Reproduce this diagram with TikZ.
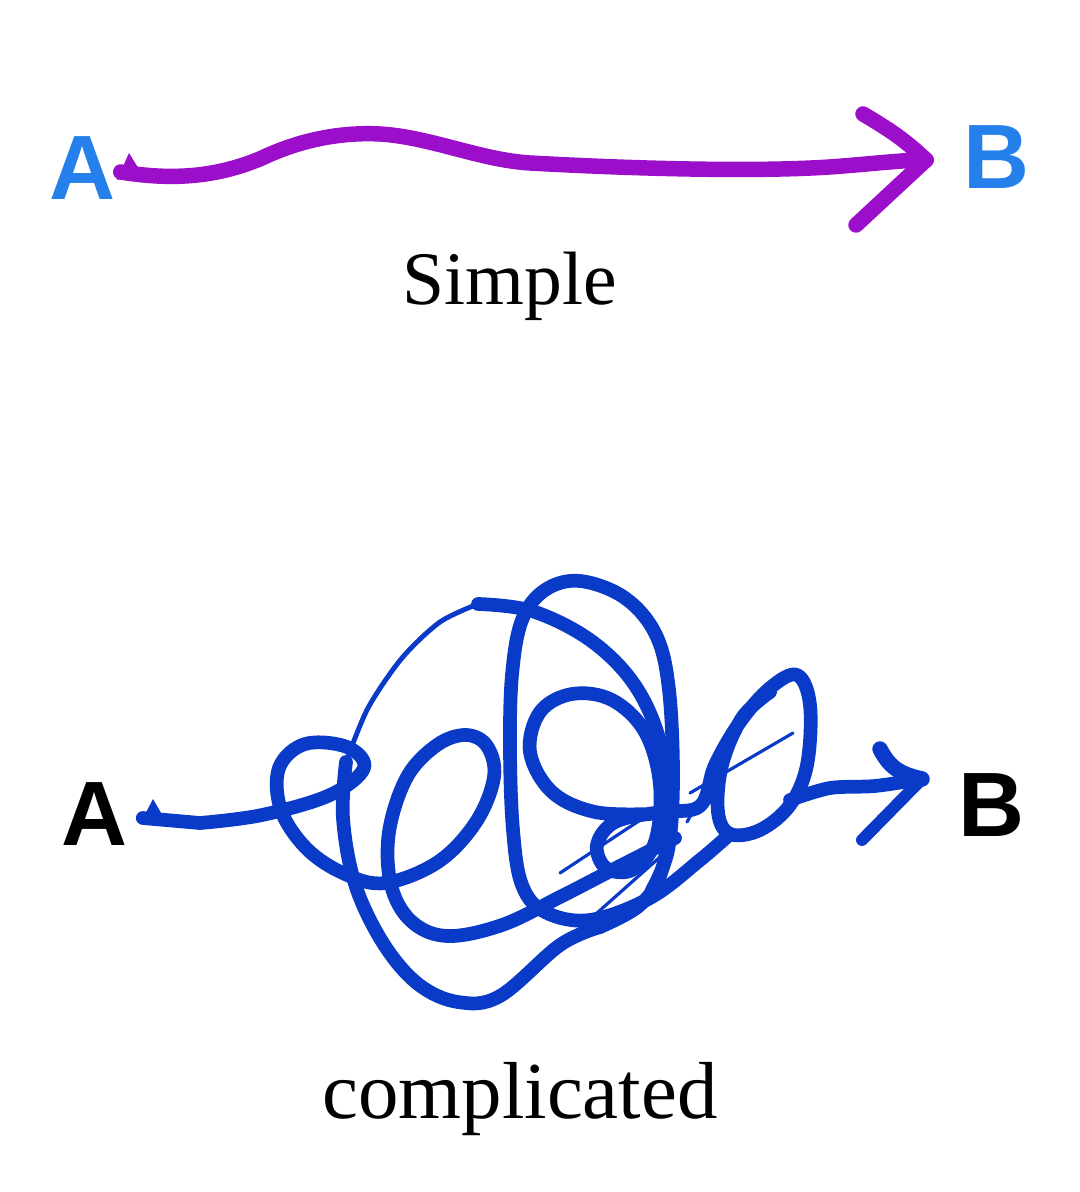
\documentclass[tikz,border=0pt]{standalone}
\usepackage{fontspec}
\setmainfont{Liberation Serif}
\newfontfamily\lettersf{Liberation Sans}
\definecolor{letterblue}{RGB}{38,128,235}
\definecolor{simplepurple}{RGB}{155,14,202}
\definecolor{knotblue}{RGB}{10,58,200}
\tikzset{
  letter/.style={inner sep=0pt, font=\lettersf\bfseries\fontsize{26}{26}\selectfont},
  penS/.style={draw=simplepurple, line width=4.4pt, line cap=round, line join=round},
  penC/.style={draw=knotblue, line width=3.9pt, line cap=round, line join=round},
  penthin/.style={draw=knotblue, line width=0.9pt, line cap=round},
}
\begin{document}
\begin{tikzpicture}[x=0.01cm, y=-0.01cm]
    \useasboundingbox (0,0) rectangle (1080,1192);
    % simple
    \node[letter, letterblue] (Asimple) at (83,168) {A};
    \node[letter, letterblue] (Bsimple) at (996,157) {B};
    \coordinate (simpletip) at (926,160);
    \draw[penS] ([shift={(4,4)}]Asimple.east) .. controls (170,180) and (215,178) .. (262,158)
        .. controls (300,140) and (340,132) .. (380,134)
        .. controls (430,137) and (480,160) .. (530,163)
        .. controls (620,168) and (760,173) .. (843,166)
        .. controls (880,163) and (905,160) .. (simpletip);
    \fill[simplepurple] (117,180) -- (129,153) -- (142,174) -- cycle;
    \draw[penS] (863,114) .. controls (890,130) and (905,140) .. (simpletip);
    \draw[penS] (simpletip) -- (856,225);
    \node[anchor=base, font=\fontsize{21.5}{24}\selectfont] (simplelbl) at (510,305) {Simple};
    % complicated
    \node[letter, black] (Acomp) at (95,814) {A};
    \node[letter, black] (Bcomp) at (991,805) {B};
    \coordinate (comptip) at (922,779);
    \fill[knotblue] (140,824) -- (153,799) -- (164,818) -- cycle;
    \draw[penC] ([shift={(14,4)}]Acomp.east) -- plot[smooth, tension=0.6] coordinates {
        (200,823) (262,815) (330,795) (364,768) (347,747) (305,744) (279,768) (281,810)
        (307,849) (345,874) (385,883) (438,862) (476,822) (494,777) (487,746) (466,735)
        (437,745) (407,777) (389,832) (391,885) (411,921) (447,936) (502,925) (560,897)
        (620,866) (675,838)};
    \draw[penC] plot[smooth, tension=0.6] coordinates {
        (600,927) (560,945) (500,996) (458,1002) (418,984) (383,943) (355,884) (343,818) (346,762)};
    \draw[penthin, line width=1.4pt] plot[smooth] coordinates {
        (346,762) (368,708) (402,658) (440,622) (478,604)};
    \draw[penC] plot[smooth, tension=0.6] coordinates {
        (478,604) (532,611) (590,640) (634,684) (660,742) (668,812) (662,870) (640,905) (600,927)};
    \draw[penC] plot[smooth, tension=0.6] coordinates {
        (730,834) (700,860) (650,898) (590,920) (545,912) (522,885) (513,830) (510,750) (512,675)
        (522,620) (545,590) (580,581) (625,598) (656,635) (669,690) (673,780) (668,850) (652,890)};
    \draw[penC] plot[smooth, tension=0.6] coordinates {
        (650,814) (595,812) (552,792) (530,752) (540,712) (572,694) (612,700) (645,732)
        (660,785) (655,842) (632,870) (606,868) (597,845) (615,822) (660,812) (700,806)
        (715,765) (740,722) (770,688) (797,675) (810,705) (807,765) (790,805) (760,830)
        (730,834) (718,812) (722,765) (742,718) (770,692)};
    \draw[penC] plot[smooth] coordinates {(790,800) (830,788) (875,786) (comptip)};
    \draw[penthin] (560,873) -- (660,807);
    \draw[penthin] (570,937) -- (660,857);
    \draw[penthin] (690,793) -- (793,733);
    \draw[penthin] (687,822) -- (757,697);
    \draw[penC, line width=4.4pt] (880,749) .. controls (890,768) and (900,774) .. (comptip);
    \draw[penC, line width=3.4pt] (comptip) -- (862,840);
    \node[anchor=base, font=\fontsize{23}{26}\selectfont] (complbl) at (520,1118) {complicated};
\end{tikzpicture}
\end{document}
